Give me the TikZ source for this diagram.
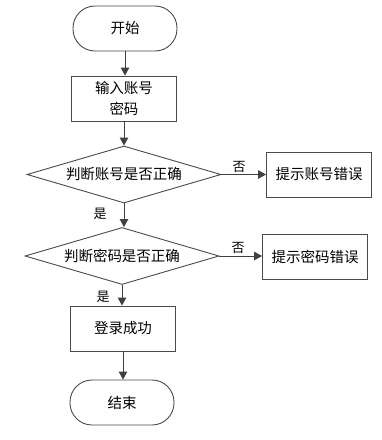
\documentclass[tikz,border=0pt]{standalone}
\usepackage{fontspec}
\newfontfamily\cjk{Noto Sans CJK SC}
\usetikzlibrary{shapes.geometric,arrows.meta}
\definecolor{edgec}{HTML}{404040}
\definecolor{linec}{HTML}{4A4A4A}
\tikzset{
  base/.style={draw=linec, line width=0.9pt, font=\cjk\fontsize{14.5}{20.5}\selectfont, inner sep=0pt, align=center},
  term/.style={base, rectangle, rounded corners=22pt, minimum width=104pt, minimum height=45pt},
  proc/.style={base, rectangle, minimum width=105pt, minimum height=45pt},
  dec/.style={base, diamond, aspect=3.35, minimum width=194pt, minimum height=57pt},
  lbl/.style={font=\cjk\fontsize{13}{15}\selectfont, inner sep=0pt},
  arr/.style={draw=edgec, line width=1pt, -{Triangle[length=8pt,width=8.5pt]}}
}
\begin{document}
\begin{tikzpicture}[x=1pt,y=-1pt]
\path[use as bounding box, fill=white] (0,0) rectangle (381,440);
\node[term] (start) at (125,28.5) {开始};
\node[proc] (input) at (124,98.5) {输入账号\\密码};
\node[dec] (d1) at (124,174.5) {判断账号是否正确};
\node[proc] (e1) at (319,174.5) {提示账号错误};
\node[dec] (d2) at (122,256) {判断密码是否正确};
\node[proc] (e2) at (315,256.5) {提示密码错误};
\node[proc] (ok) at (123,328.5) {登录成功};
\node[term] (end) at (122,402.5) {结束};
\draw[arr] (start.south) -- (start.south |- input.north);
\draw[arr] (input.south) -- (input.south |- d1.north);
\draw[arr] (d1.east) -- (e1.west);
\draw[arr] (d1.south) -- (d1.south |- d2.north);
\draw[arr] (d2.east) -- (d2.east -| e2.west);
\draw[arr] (d2.south) -- (d2.south |- ok.north);
\draw[arr] (ok.south) -- (ok.south |- end.north);
\node[lbl] (n1) at (239,167) {否};
\node[lbl] (y1) at (100,213.5) {是};
\node[lbl] (n2) at (238,247.5) {否};
\node[lbl] (y2) at (103,296.5) {是};
\end{tikzpicture}
\end{document}
